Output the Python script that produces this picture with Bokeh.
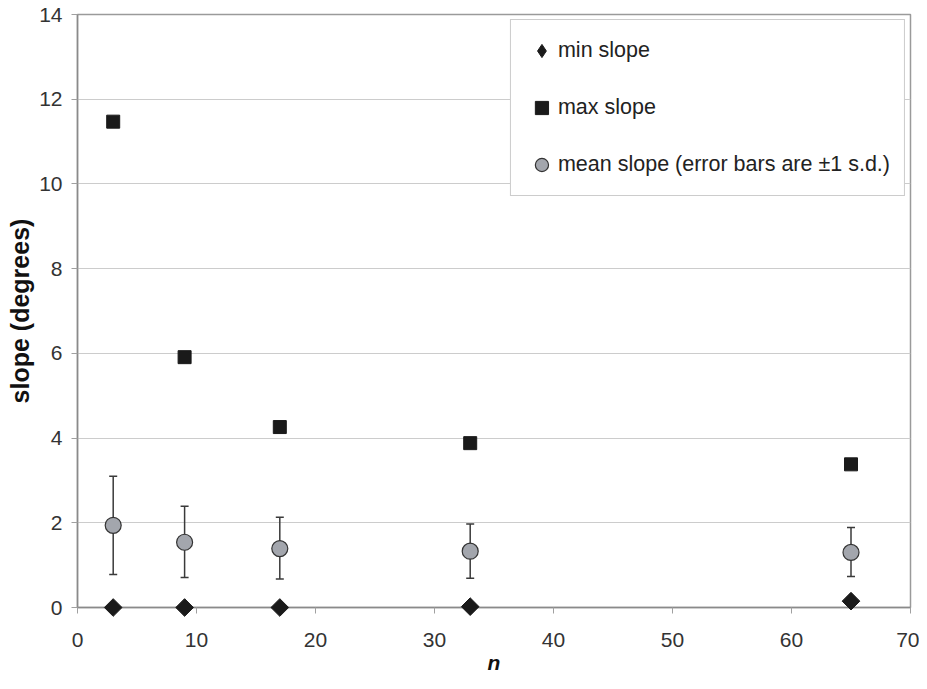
import math
from bokeh.plotting import figure
from bokeh.models import ColumnDataSource, Whisker, TeeHead, Legend, LegendItem, FixedTicker, Range1d, Title
from bokeh.embed import file_html
from bokeh.resources import INLINE

n_vals = [3, 9, 17, 33, 65]
min_slope = [0.0, 0.0, 0.0, 0.02, 0.15]
max_slope = [11.47, 5.91, 4.26, 3.88, 3.38]
mean_slope = [1.94, 1.54, 1.39, 1.33, 1.30]
err_upper = [3.10, 2.39, 2.13, 1.97, 1.89]
err_lower = [0.78, 0.71, 0.67, 0.69, 0.73]
x_ticks = [0, 10, 20, 30, 40, 50, 60, 70]
y_ticks = [0, 2, 4, 6, 8, 10, 12, 14]

FONT = "Liberation Sans"

p = figure(width=919, height=681, output_backend="svg", toolbar_location=None,
           x_range=Range1d(0, 70), y_range=Range1d(0, 14),
           min_border_left=77, min_border_top=14, min_border_right=9, min_border_bottom=74)
p.background_fill_color = "white"
p.border_fill_color = "white"
p.outline_line_color = "#9a9a9a"
p.outline_line_width = 1.5

src = ColumnDataSource(dict(x=n_vals, mn=min_slope, mx=max_slope, mean=mean_slope,
                            up=err_upper, lo=err_lower))

w = Whisker(base="x", upper="up", lower="lo", source=src, line_color="#3a3a3a", line_width=1.5,
            upper_head=TeeHead(size=8, line_color="#3a3a3a", line_width=1.5),
            lower_head=TeeHead(size=8, line_color="#3a3a3a", line_width=1.5))
p.add_layout(w)

r_min = p.scatter("x", "mn", source=src, marker="square", angle=math.pi / 4, size=12.5,
                  fill_color="#1a1a1a", line_color="#1a1a1a", level="overlay")
# legend-only renderer (legend markers are drawn unrotated)
r_min_leg = p.scatter("x", "mn", source=src, marker="diamond", size=18,
                      fill_color="#1a1a1a", line_color="#1a1a1a", visible=False)
r_max = p.scatter("x", "mx", source=src, marker="square", size=13, fill_color="#1a1a1a", line_color="#1a1a1a")
r_mean = p.scatter("x", "mean", source=src, marker="circle", size=16, fill_color="#a3a6ad",
                   line_color="#333333", line_width=1.2, level="overlay")

p.xaxis.ticker = FixedTicker(ticks=x_ticks)
p.yaxis.ticker = FixedTicker(ticks=y_ticks)
p.xgrid.grid_line_color = None
p.ygrid.grid_line_color = "#cccccc"
p.ygrid.grid_line_width = 1.2

for ax in (p.xaxis[0], p.yaxis[0]):
    ax.axis_line_color = "#8a8a8a"
    ax.axis_line_width = 1.5
    ax.major_tick_line_color = "#a0a0a0"
    ax.major_tick_in = 0
    ax.major_tick_out = 6
    ax.minor_tick_line_color = None
    ax.major_label_text_font = FONT
    ax.major_label_text_font_size = "21px"
    ax.major_label_text_color = "#333333"

p.xaxis.major_label_standoff = 19
p.yaxis.major_label_standoff = 9

p.xaxis.axis_label = "n"
p.xaxis.axis_label_text_font = FONT
p.xaxis.axis_label_text_font_size = "21px"
p.xaxis.axis_label_text_font_style = "bold italic"
p.xaxis.axis_label_text_color = "#111111"
p.xaxis.axis_label_standoff = 1

y_title = Title(text="slope (degrees)", align="center", standoff=6,
                text_font=FONT, text_font_size="25px", text_font_style="bold",
                text_color="#111111")
p.add_layout(y_title, "left")

legend = Legend(items=[LegendItem(label="min slope", renderers=[r_min_leg]),
                       LegendItem(label="max slope", renderers=[r_max]),
                       LegendItem(label="mean slope (error bars are \u00b11 s.d.)", renderers=[r_mean])],
                location="top_right")
legend.margin = 5
legend.padding = 14
legend.spacing = 24
legend.glyph_width = 33
legend.glyph_height = 33
legend.label_standoff = -5
legend.label_text_font = FONT
legend.label_text_font_size = "21.5px"
legend.label_text_color = "#222222"
legend.border_line_color = "#9a9a9a"
legend.border_line_width = 1.2
legend.background_fill_alpha = 1
p.add_layout(legend)

open("out.html", "w").write(file_html(p, INLINE))
